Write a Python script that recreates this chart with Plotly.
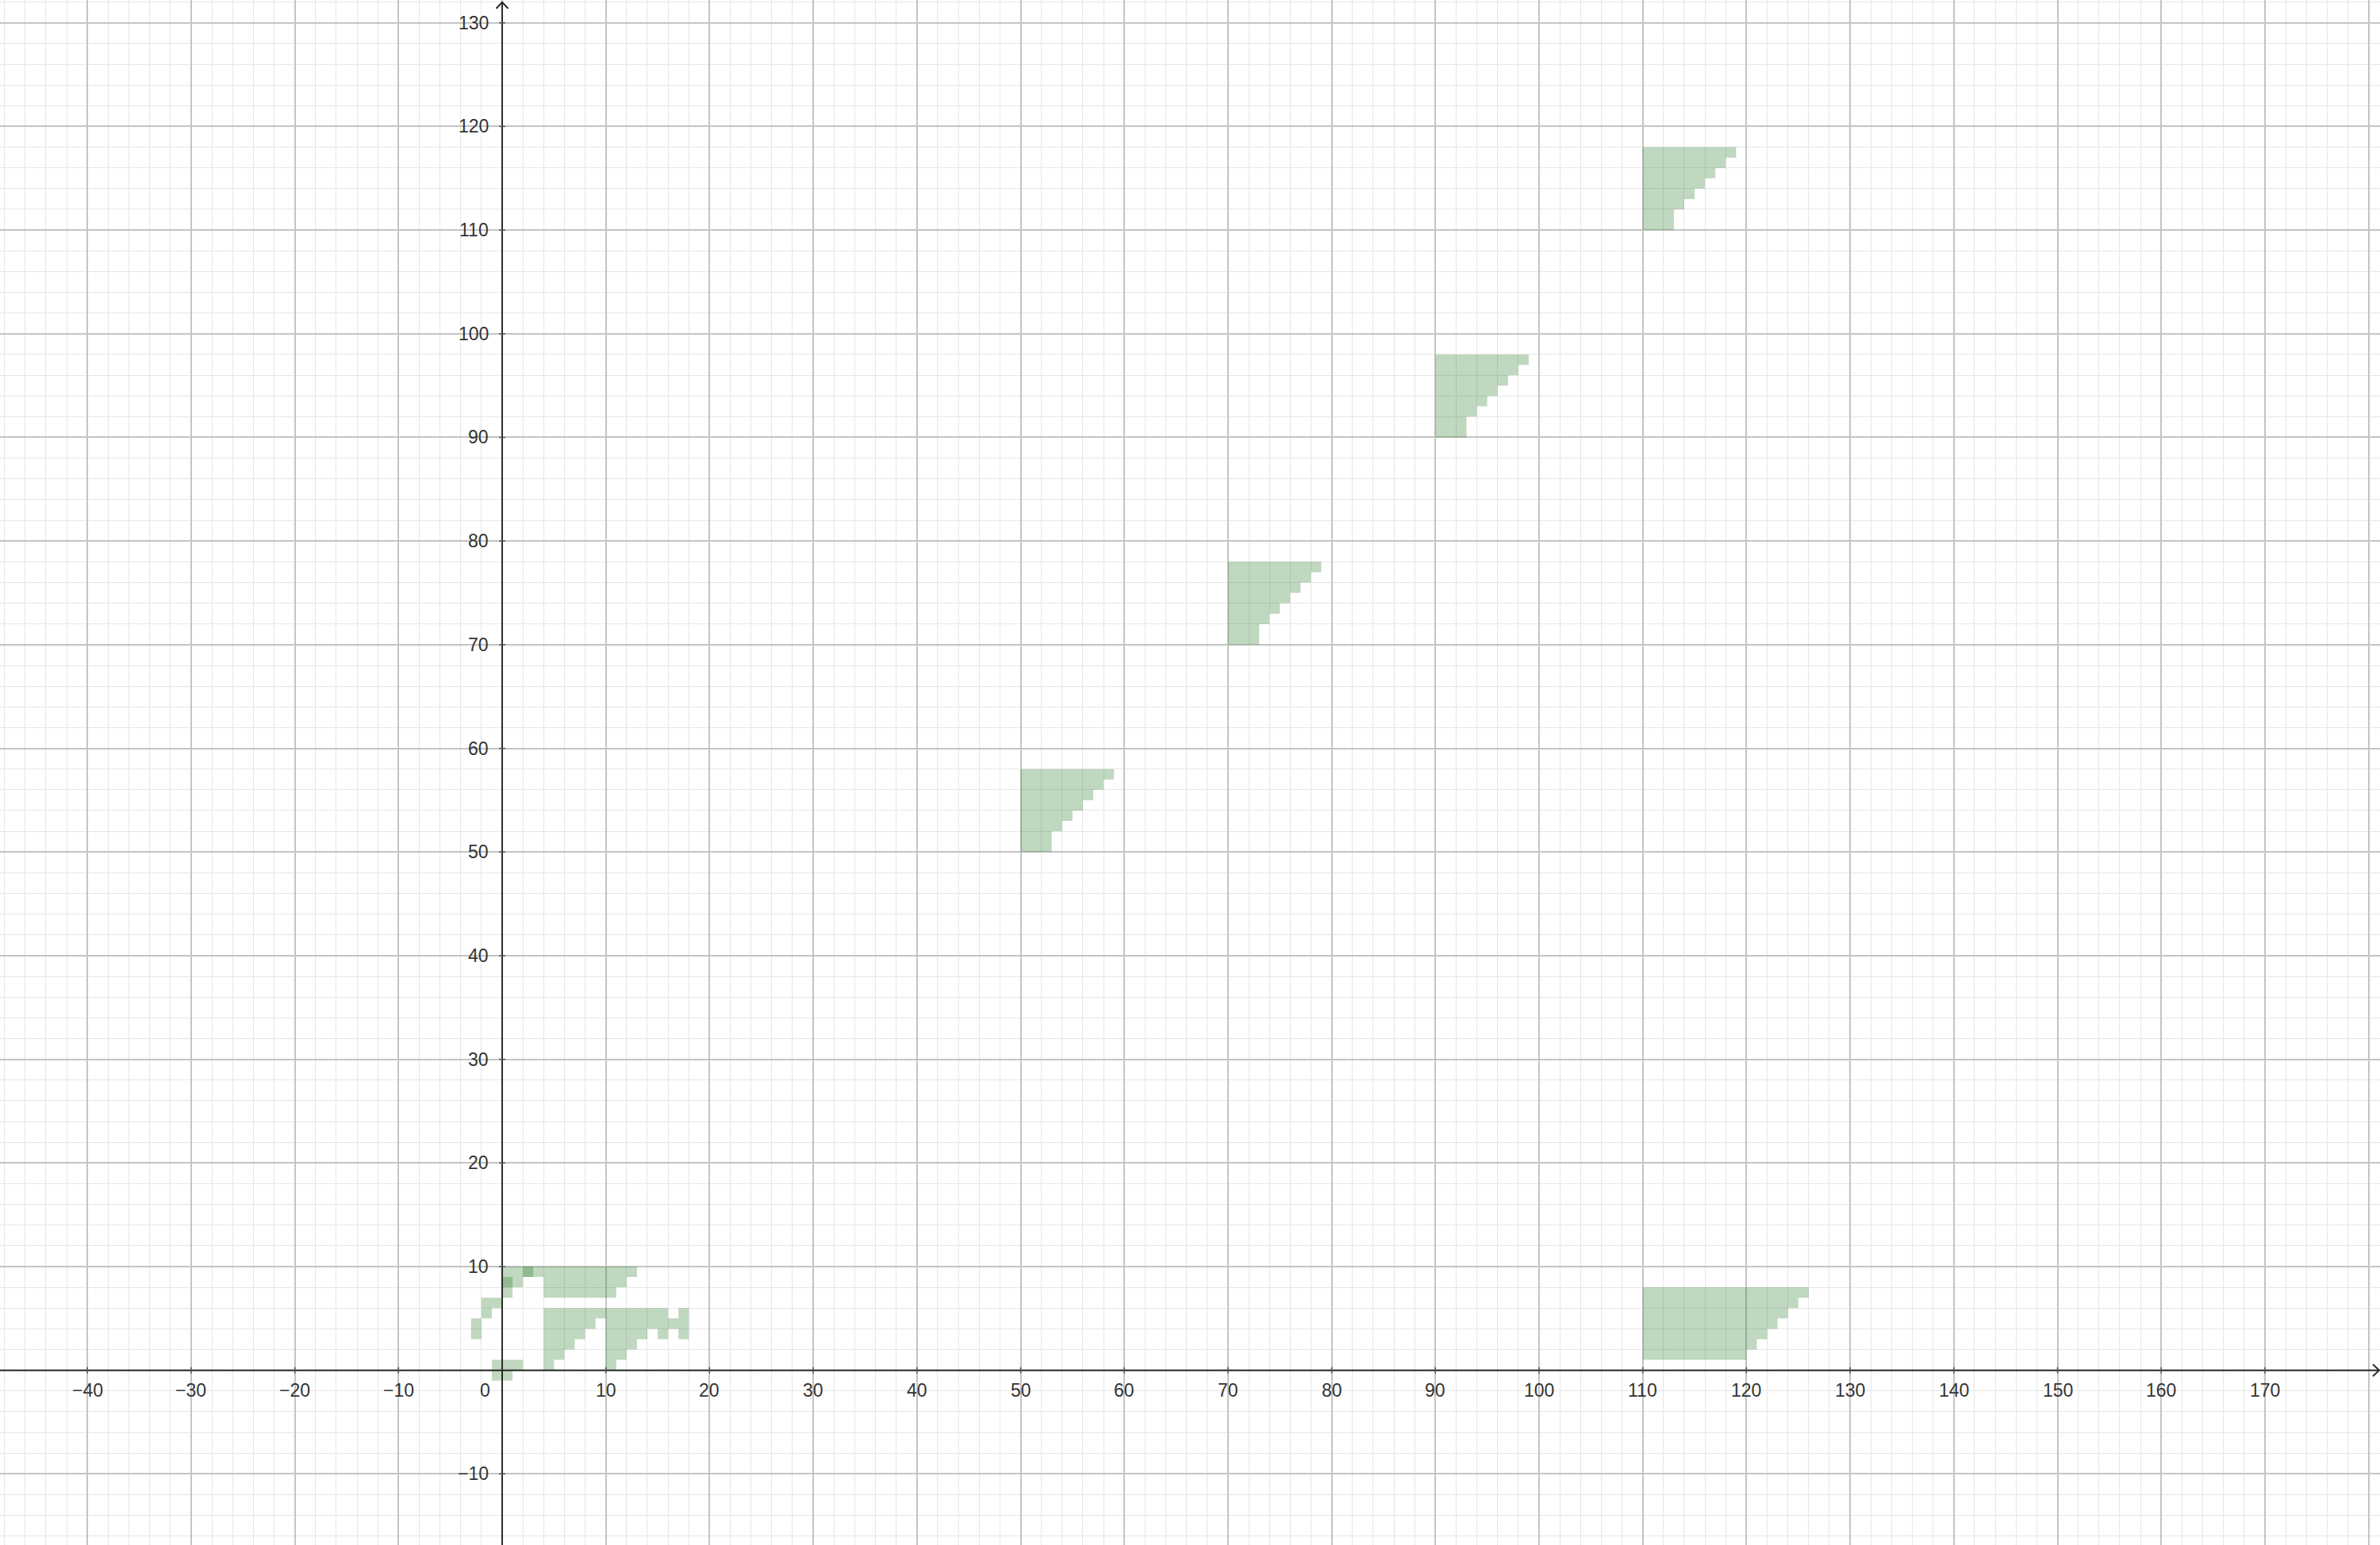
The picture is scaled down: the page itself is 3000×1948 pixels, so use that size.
import plotly.graph_objects as go

# ---------------- data: filled unit cells, as row runs (row_y, x_start, x_end) ----------------
region_top_left = [(9, 0, 13), (8, 0, 2), (8, 4, 12), (7, 0, 1), (7, 4, 11)]
region_overlap = [(9, 2, 3), (8, 0, 1)]
region_left_steps = [(6, -2, 0), (5, -2, -1), (4, -3, -2), (3, -3, -2)]
region_origin = [(0, -1, 2), (-1, -1, 1)]
region_middle = [(5, 4, 16), (5, 17, 18), (4, 4, 9), (4, 10, 18),
                 (3, 4, 8), (3, 10, 14), (3, 15, 16), (3, 17, 18),
                 (2, 4, 7), (2, 10, 13), (1, 4, 6), (1, 10, 12),
                 (0, 4, 5), (0, 10, 11)]
region_bottom_right = [(7, 110, 126), (6, 110, 125), (5, 110, 124), (4, 110, 123),
                       (3, 110, 122), (2, 110, 121), (1, 110, 120)]
region_50 = [(57, 50, 59), (56, 50, 58), (55, 50, 57), (54, 50, 56),
             (53, 50, 55), (52, 50, 54), (51, 50, 53), (50, 50, 53)]
region_70 = [(77, 70, 79), (76, 70, 78), (75, 70, 77), (74, 70, 76),
             (73, 70, 75), (72, 70, 74), (71, 70, 73), (70, 70, 73)]
region_90 = [(97, 90, 99), (96, 90, 98), (95, 90, 97), (94, 90, 96),
             (93, 90, 95), (92, 90, 94), (91, 90, 93), (90, 90, 93)]
region_110 = [(117, 110, 119), (116, 110, 118), (115, 110, 117), (114, 110, 116),
              (113, 110, 115), (112, 110, 114), (111, 110, 113), (110, 110, 113)]

x_tick_values = [-40, -30, -20, -10, 10, 20, 30, 40, 50, 60, 70, 80, 90, 100,
                 110, 120, 130, 140, 150, 160, 170]
y_tick_values = [-10, 10, 20, 30, 40, 50, 60, 70, 80, 90, 100, 110, 120, 130]

# ---------------- view ----------------
X_MIN, X_MAX = -48.43, 181.1
Y_MIN, Y_MAX = -16.86, 132.2

FILL = "rgba(0,100,0,0.25)"
AXIS_COLOR = "#2b2b2b"
LABEL_COLOR = "#333333"
FONT = "Liberation Sans, Arial, sans-serif"
FONT_SIZE = 23


def runs_to_path(runs):
    xs, ys = [], []
    for (y, x0, x1) in runs:
        xs += [x0, x1, x1, x0, x0, None]
        ys += [y, y, y + 1, y + 1, y, None]
    return xs, ys


fig = go.Figure()

light_regions = [region_top_left, region_left_steps, region_origin, region_middle,
                 region_bottom_right, region_50, region_70, region_90, region_110]
all_runs = [r for reg in light_regions for r in reg]
xs, ys = runs_to_path(all_runs)
fig.add_trace(go.Scatter(x=xs, y=ys, mode="lines", fill="toself", fillcolor=FILL,
                         line=dict(width=0), hoverinfo="skip", showlegend=False))
xs, ys = runs_to_path(region_overlap)
fig.add_trace(go.Scatter(x=xs, y=ys, mode="lines", fill="toself", fillcolor=FILL,
                         line=dict(width=0), hoverinfo="skip", showlegend=False))

# axes lines with arrow heads (drawn above the fills)
ux = (X_MAX - X_MIN) / 3000.0  # data units per pixel
uy = (Y_MAX - Y_MIN) / 1948.0
x_tip = X_MAX - 1 * ux
y_tip = Y_MAX - 2.7 * uy
fig.add_trace(go.Scatter(x=[X_MIN, x_tip, None, x_tip - 8 * ux, x_tip, x_tip - 8 * ux],
                         y=[0, 0, None, 7.5 * uy, 0, -7.5 * uy],
                         mode="lines", line=dict(color=AXIS_COLOR, width=2),
                         hoverinfo="skip", showlegend=False))
fig.add_trace(go.Scatter(x=[0, 0, None, -7.5 * ux, 0, 7.5 * ux],
                         y=[Y_MIN, y_tip, None, y_tip - 8 * uy, y_tip, y_tip - 8 * uy],
                         mode="lines", line=dict(color=AXIS_COLOR, width=2),
                         hoverinfo="skip", showlegend=False))

# small tick marks on the axes
tx, ty = [], []
for v in x_tick_values:
    tx += [v, v, None]
    ty += [-4 * uy, 4 * uy, None]
for v in y_tick_values:
    tx += [-4 * ux, 4 * ux, None]
    ty += [v, v, None]
fig.add_trace(go.Scatter(x=tx, y=ty, mode="lines", line=dict(color="#555555", width=1.5),
                         hoverinfo="skip", showlegend=False))

annotations = []
for v in x_tick_values:
    annotations.append(dict(x=v, y=0, xref="x", yref="y", text=str(v).replace("-", "\u2212"),
                            showarrow=False, xanchor="center", yanchor="middle", yshift=-25,
                            font=dict(family=FONT, size=FONT_SIZE, color=LABEL_COLOR)))
annotations.append(dict(x=0, y=0, xref="x", yref="y", text="0", showarrow=False,
                        xanchor="center", yanchor="middle", xshift=-21, yshift=-25,
                        font=dict(family=FONT, size=FONT_SIZE, color=LABEL_COLOR)))
for v in y_tick_values:
    annotations.append(dict(x=0, y=v, xref="x", yref="y", text=str(v).replace("-", "\u2212"),
                            showarrow=False, xanchor="right", yanchor="middle", xshift=-15,
                            font=dict(family=FONT, size=FONT_SIZE, color=LABEL_COLOR)))

axis_common = dict(showticklabels=False, ticks="", zeroline=False, showline=False,
                   showgrid=True, gridcolor="#c4c4c4", gridwidth=1.6, dtick=10, tick0=0,
                   minor=dict(dtick=2, tick0=0, showgrid=True, gridcolor="#e6e6e6", gridwidth=1))

fig.update_layout(
    width=3000, height=1948,
    margin=dict(l=0, r=0, t=0, b=0),
    paper_bgcolor="white", plot_bgcolor="white",
    xaxis=dict(range=[X_MIN, X_MAX], **axis_common),
    yaxis=dict(range=[Y_MIN, Y_MAX], **axis_common),
    annotations=annotations,
    showlegend=False,
)

fig.write_html("out.html", config={"displayModeBar": False},
               post_script="document.body.style.margin='0';document.body.style.overflow='hidden';")
